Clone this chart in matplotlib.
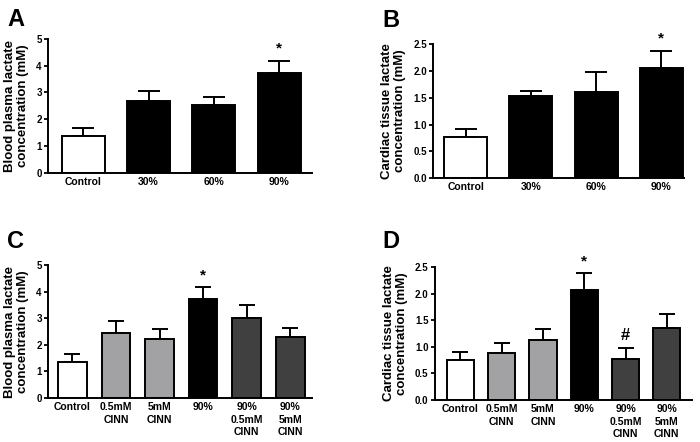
import numpy as np
import matplotlib
matplotlib.use("Agg")
import matplotlib.pyplot as plt

plt.rcParams['font.family'] = ['Liberation Sans', 'DejaVu Sans']
plt.rcParams['font.weight'] = 'bold'

# Data
groups_ab = ["Control", "30%", "60%", "90%"]
plasma_ab = [1.37, 2.67, 2.53, 3.72]
plasma_ab_err = [0.29, 0.40, 0.29, 0.46]
tissue_ab = [0.76, 1.54, 1.61, 2.06]
tissue_ab_err = [0.15, 0.09, 0.37, 0.32]
colors_ab = ["white", "black", "black", "black"]
marks_a = ["", "", "", "*"]
marks_b = ["", "", "", "*"]

groups_cd = ["Control", "0.5mM\nCINN", "5mM\nCINN", "90%",
             "90%\n0.5mM\nCINN", "90%\n5mM\nCINN"]
plasma_cd = [1.35, 2.45, 2.22, 3.71, 3.00, 2.31]
plasma_cd_err = [0.29, 0.46, 0.39, 0.46, 0.49, 0.33]
tissue_cd = [0.76, 0.88, 1.13, 2.07, 0.78, 1.35]
tissue_cd_err = [0.15, 0.20, 0.20, 0.31, 0.20, 0.26]
colors_cd = ["white", "#a2a2a5", "#a2a2a5", "black", "#404040", "#404040"]
marks_c = ["", "", "", "*", "", ""]
marks_d = ["", "", "", "*", "#", ""]

plasma_label = "Blood plasma lactate\nconcentration (mM)"
tissue_label = "Cardiac tissue lactate\nconcentration (mM)"

fig = plt.figure(figsize=(7, 4.42), dpi=100)


def panel(rect, letter, letter_xy, groups, vals, errs, colors, marks, ylabel,
          ymax, ystep, fmt, xlim, capsize):
    ax = fig.add_axes(rect)
    x = np.arange(len(groups))
    ax.errorbar(x, vals, yerr=[np.zeros(len(vals)), errs], fmt='none',
                ecolor='black', elinewidth=1.4, capsize=capsize,
                capthick=1.4, zorder=1)
    ax.bar(x, vals, width=0.66, color=colors, edgecolor='black',
           linewidth=1.4, zorder=2)
    for xi, v, e, m in zip(x, vals, errs, marks):
        if m:
            ax.text(xi, v + e + 0.09 * ymax, m, ha='center', va='center',
                    fontsize=11 if m == "*" else 12, fontweight='bold')
    ax.set_ylim(0, ymax)
    ax.set_xlim(*xlim)
    ticks = np.arange(0, ymax + ystep / 2, ystep)
    ax.set_yticks(ticks)
    ax.set_yticklabels([fmt.format(t) for t in ticks])
    ax.set_xticks(x)
    ax.set_xticklabels(groups, linespacing=1.3)
    ax.tick_params(axis='y', length=3, width=1.3, labelsize=7, pad=1.5)
    ax.tick_params(axis='x', length=0, labelsize=7.5, pad=3)
    for s in ["top", "right"]:
        ax.spines[s].set_visible(False)
    for s in ["left", "bottom"]:
        ax.spines[s].set_linewidth(1.4)
    ax.set_ylabel(ylabel, fontsize=9.5, fontweight='bold', labelpad=5,
                  linespacing=1.15)
    fig.text(letter_xy[0], letter_xy[1], letter, fontsize=17,
             fontweight='bold', ha='left', va='baseline')
    return ax


panel([0.0686, 0.609, 0.377, 0.303], "A", (0.01, 0.942), groups_ab,
      plasma_ab, plasma_ab_err, colors_ab, marks_a, plasma_label,
      5, 1, "{:.0f}", (-0.54, 3.5), 8)
panel([0.619, 0.597, 0.358, 0.303], "B", (0.546, 0.940), groups_ab,
      tissue_ab, tissue_ab_err, colors_ab, marks_b, tissue_label,
      2.5, 0.5, "{:.1f}", (-0.5, 3.35), 8)
panel([0.0686, 0.0995, 0.377, 0.301], "C", (0.01, 0.439), groups_cd,
      plasma_cd, plasma_cd_err, colors_cd, marks_c, plasma_label,
      5, 1, "{:.0f}", (-0.56, 5.5), 6)
panel([0.621, 0.095, 0.367, 0.301], "D", (0.546, 0.439), groups_cd,
      tissue_cd, tissue_cd_err, colors_cd, marks_d, tissue_label,
      2.5, 0.5, "{:.1f}", (-0.62, 5.6), 6)

fig.savefig("out.png", dpi=100)
